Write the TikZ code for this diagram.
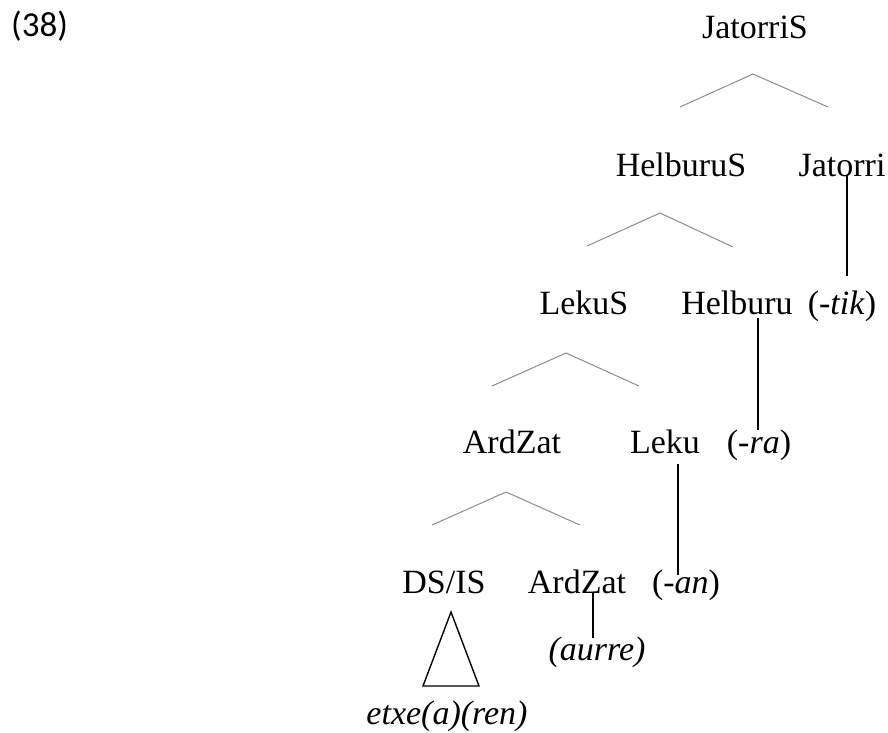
\documentclass[tikz,border=0pt]{standalone}
\usepackage{fontspec}
\setmainfont{Liberation Serif}
\newfontfamily\numfont{Carlito}
\begin{document}
\begin{tikzpicture}[x=1pt,y=-1pt,
  lbl/.style={anchor=base,inner sep=0pt,font=\fontsize{34}{40}\selectfont},
  branch/.style={draw=black!45,line width=1pt},
  stem/.style={draw=black,line width=1.4pt}]
\useasboundingbox (0,0) rectangle (888,732);
\node[anchor=base west,inner sep=0pt,font=\numfont\fontsize{35}{40}\selectfont] (num) at (11,36) {(38)};
% labels
\node[lbl] (jS) at (755,38) {JatorriS};
\node[lbl] (hS) at (681,176) {HelburuS};
\node[lbl] (jat) at (842,176) {Jatorri};
\node[lbl] (tik) at (842,314) {(-\textit{tik})};
\node[lbl] (lS) at (584,314) {LekuS};
\node[lbl] (hel) at (737,314) {Helburu};
\node[lbl] (ard) at (512,453) {ArdZat};
\node[lbl] (lek) at (665,453) {Leku};
\node[lbl] (ra) at (759,453) {(-\textit{ra})};
\node[lbl] (ds) at (444,593) {DS/IS};
\node[lbl] (ard2) at (577,593) {ArdZat};
\node[lbl] (an) at (686,593) {(-\textit{an})};
\node[lbl] (aur) at (597,660) {\textit{(aurre)}};
\node[lbl] (etx) at (447,724) {\textit{etxe(a)(ren)}};
% branch coordinates
\coordinate (a1) at (753,74);  \coordinate (l1) at (680,107); \coordinate (r1) at (828,107);
\coordinate (a2) at (660,213); \coordinate (l2) at (587,246); \coordinate (r2) at (733,247);
\coordinate (a3) at (566,353); \coordinate (l3) at (492,386); \coordinate (r3) at (639,386);
\coordinate (a4) at (506,492); \coordinate (l4) at (432,525); \coordinate (r4) at (580,525);
\draw[branch] (l1) -- (a1) -- (r1);
\draw[branch] (l2) -- (a2) -- (r2);
\draw[branch] (l3) -- (a3) -- (r3);
\draw[branch] (l4) -- (a4) -- (r4);
% stems
\coordinate (s1t) at (847,175); \coordinate (s1b) at (847,276);
\coordinate (s2t) at (758,318); \coordinate (s2b) at (758,430);
\coordinate (s3t) at (678,464); \coordinate (s3b) at (678,575);
\coordinate (s4t) at (593,593); \coordinate (s4b) at (593,638);
\draw[stem] (s1t) -- (s1b);
\draw[stem] (s2t) -- (s2b);
\draw[stem] (s3t) -- (s3b);
\draw[stem] (s4t) -- (s4b);
% triangle
\coordinate (ta) at (451,612); \coordinate (tl) at (423,686); \coordinate (tr) at (479,686);
\draw[stem,line join=miter] (ta) -- (tl) -- (tr) -- cycle;
\end{tikzpicture}
\end{document}
